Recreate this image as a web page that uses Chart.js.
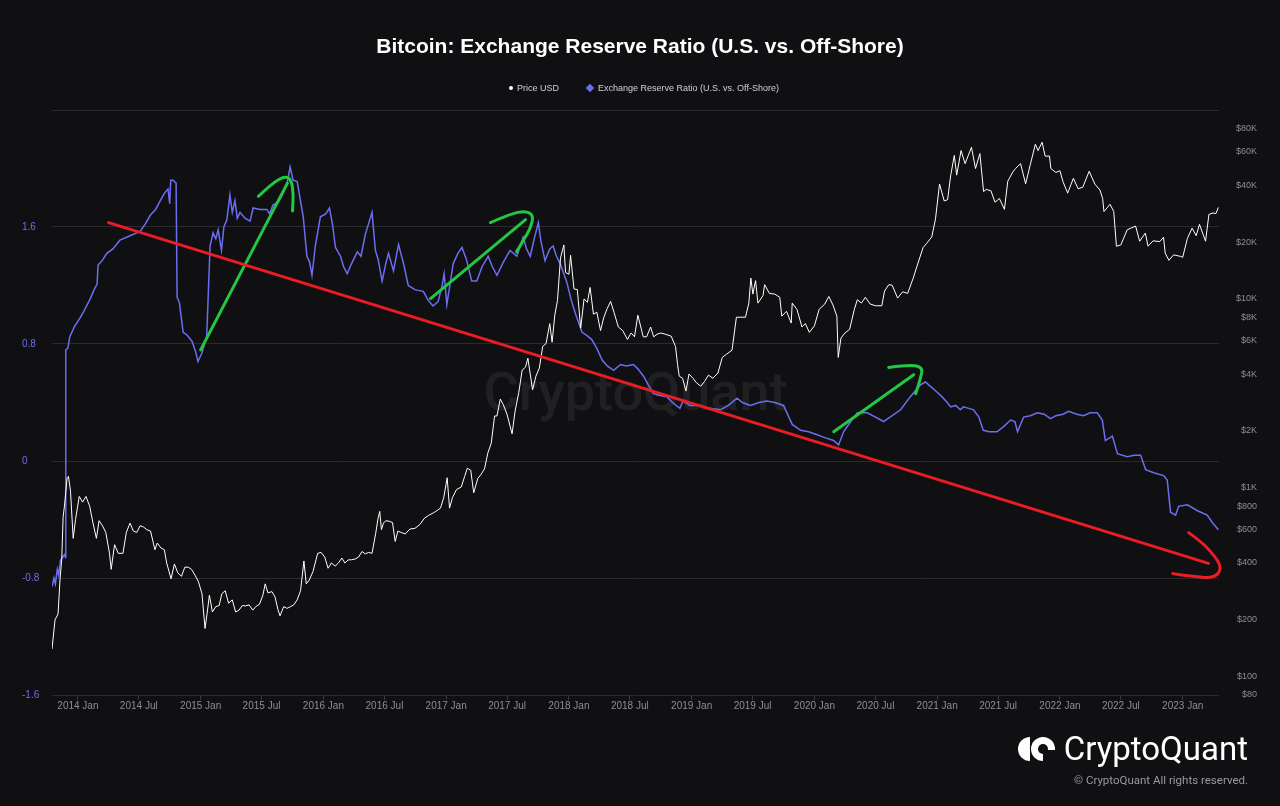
<!DOCTYPE html>
<html>
<head>
<meta charset="utf-8">
<script src="https://cdn.jsdelivr.net/npm/chart.js@4.4.1/dist/chart.umd.min.js"></script>
<style>
html,body{margin:0;padding:0;background:#101013;}
#wrap{position:relative;width:1280px;height:806px;overflow:hidden;font-family:Arial,"Liberation Sans",sans-serif;}
#chart{position:absolute;left:0;top:0;}
#title{position:absolute;top:34px;left:0;width:1280px;text-align:center;color:#fff;font-weight:bold;font-size:21px;}
#legend{position:absolute;top:82px;left:4px;width:1280px;text-align:center;color:#d0d0d4;font-size:9px;}
#legend span{display:inline-block;vertical-align:middle;}
.dot{width:4px;height:4px;border-radius:50%;background:#fff;margin-right:4px;}
.dia{width:6px;height:6px;background:#6b6ef0;transform:rotate(45deg);margin:0 5px 0 28px;}
#brand{position:absolute;right:32px;top:729px;color:#fff;font-family:Roboto,sans-serif;font-size:33px;display:flex;align-items:center;}
#brand svg{margin-right:9px;}
#copy{position:absolute;right:32px;top:773px;color:#9a9a9e;font-family:Roboto,sans-serif;font-size:11.5px;}
</style>
</head>
<body>
<div id="wrap">
<canvas id="chart" width="1280" height="806"></canvas>
<div id="title">Bitcoin: Exchange Reserve Ratio (U.S. vs. Off-Shore)</div>
<div id="legend"><span class="dot"></span><span>Price USD</span><span class="dia"></span><span>Exchange Reserve Ratio (U.S. vs. Off-Shore)</span></div>
<div id="brand"><svg width="38" height="26" viewBox="0 0 38 26"><path d="M13 1 A12 12 0 0 0 13 25 Z" fill="#fff"/><circle cx="26" cy="13" r="12" fill="#fff"/><path d="M26 14 L38 14 L38 26 L26 26 Z" fill="#101013"/><circle cx="26" cy="13" r="5" fill="#101013"/></svg>CryptoQuant</div>
<div id="copy">© CryptoQuant All rights reserved.</div>
</div>
<script>
// tick labels
const xTickDates = ['2014-01-01','2014-07-01','2015-01-01','2015-07-01','2016-01-01','2016-07-01','2017-01-01','2017-07-01','2018-01-01','2018-07-01','2019-01-01','2019-07-01','2020-01-01','2020-07-01','2021-01-01','2021-07-01','2022-01-01','2022-07-01','2023-01-01']
const xTickLabels = ['2014 Jan','2014 Jul','2015 Jan','2015 Jul','2016 Jan','2016 Jul','2017 Jan','2017 Jul','2018 Jan','2018 Jul','2019 Jan','2019 Jul','2020 Jan','2020 Jul','2021 Jan','2021 Jul','2022 Jan','2022 Jul','2023 Jan']
const priceTicks = [80,100,200,400,600,800,1000,2000,4000,6000,8000,10000,20000,40000,60000,80000]
const priceTickLabels = ['$80','$100','$200','$400','$600','$800','$1K','$2K','$4K','$6K','$8K','$10K','$20K','$40K','$60K','$80K']

// Price USD
const priceDates = [
'2013-10-16','2013-10-25','2013-11-03','2013-11-09','2013-11-14','2013-11-18','2013-11-22','2013-11-30','2013-12-04','2013-12-10','2013-12-18','2013-12-25',
'2014-01-05','2014-01-15','2014-01-25','2014-02-05','2014-02-15','2014-02-25','2014-03-05','2014-03-15','2014-03-25','2014-04-05','2014-04-10','2014-04-20','2014-05-01','2014-05-15','2014-05-25','2014-06-05','2014-06-15','2014-06-25','2014-07-05','2014-07-15','2014-07-25','2014-08-05','2014-08-18','2014-08-25','2014-09-05','2014-09-15','2014-09-22','2014-10-05','2014-10-15','2014-10-25','2014-11-05','2014-11-15','2014-11-25','2014-12-05','2014-12-15','2014-12-25',
'2015-01-05','2015-01-14','2015-01-20','2015-01-27','2015-02-05','2015-02-15','2015-02-25','2015-03-05','2015-03-15','2015-03-25','2015-04-05','2015-04-15','2015-04-25','2015-05-05','2015-05-15','2015-05-25','2015-06-05','2015-06-15','2015-06-25','2015-07-05','2015-07-12','2015-07-20','2015-08-01','2015-08-10','2015-08-19','2015-08-25','2015-09-05','2015-09-15','2015-09-25','2015-10-05','2015-10-15','2015-10-25','2015-11-04','2015-11-11','2015-11-20','2015-12-01','2015-12-15','2015-12-25',
'2016-01-05','2016-01-15','2016-01-25','2016-02-05','2016-02-15','2016-02-25','2016-03-05','2016-03-15','2016-03-25','2016-04-05','2016-04-15','2016-04-25','2016-05-05','2016-05-15','2016-05-25','2016-06-05','2016-06-12','2016-06-17','2016-06-22','2016-06-28','2016-07-05','2016-07-15','2016-07-25','2016-08-02','2016-08-10','2016-08-20','2016-09-01','2016-09-15','2016-09-30','2016-10-15','2016-10-28','2016-11-10','2016-11-20','2016-12-01','2016-12-15','2016-12-25',
'2017-01-04','2017-01-11','2017-01-20','2017-02-01','2017-02-15','2017-02-25','2017-03-05','2017-03-15','2017-03-24','2017-04-05','2017-04-15','2017-04-25','2017-05-05','2017-05-15','2017-05-25','2017-06-01','2017-06-11','2017-06-20','2017-07-01','2017-07-16','2017-07-25','2017-08-05','2017-08-15','2017-08-25','2017-09-01','2017-09-15','2017-09-25','2017-10-05','2017-10-15','2017-10-25','2017-11-05','2017-11-12','2017-11-20','2017-11-28','2017-12-07','2017-12-17','2017-12-22',
'2018-01-01','2018-01-06','2018-01-16','2018-01-26','2018-02-05','2018-02-15','2018-02-25','2018-03-05','2018-03-15','2018-03-25','2018-04-05','2018-04-15','2018-04-25','2018-05-05','2018-05-15','2018-05-28','2018-06-10','2018-06-24','2018-07-05','2018-07-15','2018-07-25','2018-08-10','2018-08-20','2018-09-01','2018-09-10','2018-09-20','2018-10-01','2018-10-15','2018-11-01','2018-11-14','2018-11-20','2018-11-25','2018-12-05','2018-12-15','2018-12-24',
'2019-01-05','2019-01-15','2019-01-28','2019-02-08','2019-02-20','2019-03-05','2019-03-20','2019-04-02','2019-04-15','2019-05-01','2019-05-14','2019-05-25','2019-06-10','2019-06-20','2019-06-26','2019-07-02','2019-07-10','2019-07-17','2019-08-01','2019-08-06','2019-08-20','2019-09-05','2019-09-20','2019-09-26','2019-10-10','2019-10-24','2019-10-27','2019-11-10','2019-11-25','2019-12-05','2019-12-17',
'2020-01-01','2020-01-15','2020-02-01','2020-02-13','2020-02-25','2020-03-08','2020-03-12','2020-03-20','2020-04-01','2020-04-15','2020-04-29','2020-05-08','2020-05-20','2020-06-01','2020-06-15','2020-07-01','2020-07-20','2020-07-28','2020-08-10','2020-08-20','2020-09-05','2020-09-20','2020-10-05','2020-10-21','2020-11-05','2020-11-20','2020-12-01','2020-12-16','2020-12-27',
'2021-01-08','2021-01-22','2021-02-01','2021-02-10','2021-02-21','2021-02-28','2021-03-13','2021-03-25','2021-04-13','2021-04-25','2021-05-08','2021-05-19','2021-05-27','2021-06-10','2021-06-22','2021-07-05','2021-07-20','2021-07-30','2021-08-14','2021-08-22','2021-09-06','2021-09-21','2021-10-05','2021-10-20','2021-10-28','2021-11-09','2021-11-18','2021-12-01','2021-12-05','2021-12-20',
'2022-01-01','2022-01-10','2022-01-24','2022-02-10','2022-02-24','2022-03-10','2022-03-29','2022-04-15','2022-04-30','2022-05-08','2022-05-12','2022-05-30','2022-06-10','2022-06-18','2022-07-01','2022-07-20','2022-08-14','2022-08-26','2022-09-12','2022-09-20','2022-10-05','2022-10-25','2022-11-05','2022-11-10','2022-11-21','2022-12-05','2022-12-25',
'2023-01-01','2023-01-15','2023-01-29','2023-02-10','2023-02-20','2023-03-10','2023-03-20','2023-04-01','2023-04-10','2023-04-17']
const priceValues = [
140,200,215,330,420,700,800,1130,1150,960,540,680,
900,840,900,800,650,540,670,630,580,450,370,500,450,450,580,650,590,580,630,620,600,590,470,510,480,470,400,330,395,355,340,380,380,370,345,320,
275,180,215,270,220,235,238,275,285,245,255,220,225,238,237,240,225,236,242,270,310,278,282,265,226,210,235,230,235,240,255,285,410,310,325,360,450,455,
430,375,400,385,400,425,400,415,416,420,430,460,447,455,450,575,690,750,600,650,670,665,655,520,590,580,570,605,610,640,690,715,730,750,780,890,
1130,780,890,980,1010,1150,1270,1240,940,1120,1180,1260,1530,1720,2400,2400,2950,2750,2450,1930,2550,3200,4200,4350,4850,3300,3900,4300,5600,5800,7400,5900,8200,9800,16500,19300,13800,
13500,17000,11300,11200,7000,10000,9600,11500,8300,8500,6800,8000,8900,9700,8500,7100,6800,6100,6600,6300,8200,6300,6300,7100,6300,6500,6600,6500,6350,5600,4500,3900,3800,3250,4000,
3800,3600,3450,3650,3950,3800,4050,4900,5100,5350,8000,8000,8000,9500,12900,10600,12500,9500,10400,11900,10700,10600,10200,8100,8600,7450,9500,8800,7100,7400,6650,
7200,8800,9400,10300,9300,8100,4900,6200,6600,6900,8800,9900,9500,10200,9400,9200,9200,11000,11900,11800,10100,10900,10700,12800,15500,18700,19700,21300,26500,
40600,33000,33500,44800,57500,45200,61000,52000,63500,49000,58800,37000,38000,37300,32500,34000,29800,42000,47000,49000,52000,40700,51500,65900,61000,67500,57000,57000,49000,46700,
47700,41800,36300,43500,38300,39000,47400,40500,37700,34000,29000,31700,29000,19000,19300,23200,24300,20200,22300,19000,20300,20100,21200,17500,16000,17100,16800,
16600,20900,23700,21600,24800,20200,28000,28500,28300,30500]

// Exchange Reserve Ratio (U.S. vs. Off-Shore)
const ratioDates = [
'2013-10-16','2013-10-22','2013-10-26','2013-11-01','2013-11-05','2013-11-10','2013-11-16','2013-11-22','2013-11-25','2013-11-26','2013-12-02','2013-12-08','2013-12-22',
'2014-01-08','2014-01-20','2014-02-07','2014-02-18','2014-02-27','2014-03-02','2014-03-14','2014-03-28','2014-04-15','2014-05-06','2014-06-05','2014-07-05','2014-07-20','2014-08-04','2014-08-20','2014-09-03','2014-09-15','2014-09-26','2014-10-01','2014-10-04','2014-10-11','2014-10-20','2014-10-23','2014-10-30','2014-11-10','2014-11-22','2014-12-06','2014-12-18','2014-12-24',
'2015-01-05','2015-01-19','2015-01-29','2015-02-07','2015-02-15','2015-02-22','2015-03-04','2015-03-11','2015-03-20','2015-03-29','2015-04-05','2015-04-13','2015-04-20','2015-04-28','2015-05-13','2015-05-28','2015-06-06','2015-06-27','2015-07-17','2015-07-25','2015-08-04','2015-08-20','2015-09-03','2015-09-15','2015-09-24','2015-10-03','2015-10-15','2015-11-02','2015-11-13','2015-11-21','2015-11-28','2015-12-08','2015-12-23',
'2016-01-08','2016-01-19','2016-01-28','2016-02-06','2016-02-21','2016-03-01','2016-03-12','2016-03-25','2016-04-11','2016-04-22','2016-05-05','2016-05-25','2016-06-04','2016-06-12','2016-06-24','2016-07-05','2016-07-13','2016-07-28','2016-08-12','2016-08-27','2016-09-10','2016-10-01','2016-10-25','2016-11-08','2016-11-23','2016-12-08','2016-12-20','2016-12-26',
'2017-01-03','2017-01-12','2017-01-22','2017-02-05','2017-02-17','2017-03-02','2017-03-18','2017-04-02','2017-04-18','2017-05-06','2017-05-18','2017-06-01','2017-06-20','2017-07-10','2017-07-30','2017-08-18','2017-08-28','2017-09-08','2017-09-20','2017-10-02','2017-10-10','2017-10-22','2017-11-05','2017-11-15','2017-11-25','2017-12-06','2017-12-26',
'2018-01-08','2018-01-20','2018-02-09','2018-02-22','2018-03-10','2018-03-25','2018-04-10','2018-04-25','2018-05-14','2018-06-04','2018-06-20','2018-07-12','2018-07-25','2018-08-11','2018-08-25','2018-09-09','2018-09-25','2018-10-19','2018-11-05','2018-11-27','2018-12-06','2018-12-27',
'2019-01-26','2019-02-25','2019-03-27','2019-04-20','2019-05-16','2019-06-01','2019-06-25','2019-07-20','2019-08-13','2019-09-05','2019-10-01','2019-10-27','2019-11-21','2019-12-15',
'2020-01-09','2020-02-01','2020-02-27','2020-03-13','2020-03-28','2020-04-15','2020-05-08','2020-06-07','2020-07-01','2020-07-25','2020-08-20','2020-09-14','2020-10-13','2020-11-12','2020-11-27','2020-12-12',
'2021-01-01','2021-01-15','2021-01-31','2021-02-10','2021-02-25','2021-03-11','2021-03-20','2021-04-05','2021-04-19','2021-05-05','2021-05-18','2021-06-05','2021-06-28','2021-07-20','2021-08-07','2021-08-20','2021-08-28','2021-09-15','2021-10-05','2021-10-26','2021-11-15','2021-12-04','2021-12-20',
'2022-01-10','2022-01-27','2022-02-20','2022-03-12','2022-04-01','2022-04-22','2022-05-07','2022-05-16','2022-06-06','2022-06-21','2022-07-20','2022-08-10','2022-08-29','2022-09-13','2022-10-07','2022-11-05','2022-11-16','2022-11-26','2022-12-11','2022-12-20',
'2023-01-15','2023-02-14','2023-03-15','2023-03-30','2023-04-17']
const ratioValues = [
-0.86,-0.80,-0.84,-0.74,-0.78,-0.68,-0.66,-0.64,-0.66,0.76,0.77,0.85,0.92,
0.98,1.03,1.11,1.17,1.21,1.34,1.37,1.42,1.45,1.51,1.54,1.57,1.62,1.68,1.72,1.78,1.83,1.86,1.76,1.92,1.92,1.90,1.12,1.08,0.88,0.86,0.82,0.74,0.68,
0.74,0.85,1.47,1.56,1.52,1.58,1.44,1.60,1.65,1.82,1.70,1.78,1.66,1.70,1.66,1.64,1.73,1.72,1.72,1.69,1.75,1.77,1.83,1.90,2.01,1.92,1.91,1.67,1.40,1.36,1.27,1.47,1.67,
1.69,1.73,1.62,1.46,1.40,1.33,1.28,1.35,1.43,1.40,1.55,1.70,1.44,1.38,1.23,1.35,1.42,1.30,1.48,1.35,1.20,1.17,1.16,1.10,1.06,1.09,1.20,1.28,
1.07,1.20,1.35,1.42,1.46,1.38,1.23,1.23,1.33,1.40,1.33,1.27,1.36,1.44,1.40,1.53,1.45,1.40,1.52,1.63,1.50,1.37,1.45,1.47,1.40,1.35,1.22,
1.10,1.01,0.88,0.86,0.83,0.77,0.69,0.65,0.62,0.66,0.65,0.66,0.63,0.58,0.52,0.46,0.45,0.44,0.40,0.36,0.41,0.38,
0.38,0.36,0.35,0.38,0.43,0.40,0.38,0.40,0.41,0.40,0.38,0.25,0.21,0.20,
0.18,0.16,0.14,0.11,0.20,0.26,0.33,0.33,0.30,0.27,0.31,0.35,0.44,0.52,0.54,0.51,
0.47,0.44,0.40,0.37,0.38,0.35,0.37,0.36,0.35,0.30,0.21,0.20,0.20,0.24,0.28,0.27,0.20,0.30,0.31,0.33,0.32,0.29,0.31,
0.32,0.34,0.32,0.31,0.33,0.33,0.28,0.14,0.17,0.05,0.03,0.04,0.04,-0.06,-0.08,-0.10,-0.13,-0.35,-0.37,-0.31,
-0.30,-0.34,-0.37,-0.42,-0.47]

// hand-drawn marks, [year, ratio]
const redTrend = [[2014.25, 1.63], [2023.21, -0.70]]
const redHook = [[2023.049,-0.49],[2023.147,-0.55],[2023.229,-0.62],[2023.286,-0.68],[2023.31,-0.73],[2023.286,-0.78],[2023.213,-0.80],[2023.107,-0.79],[2022.985,-0.78],[2022.919,-0.77]]
const greenLines = [
  [[2015.0, 0.76], [2015.707, 1.90]],
  [[2016.873, 1.11], [2017.647, 1.65]],
  [[2020.157, 0.20], [2020.809, 0.59]]
]
const greenHeads = [
  [[2015.47,1.81],[2015.584,1.90],[2015.69,1.95],[2015.74,1.92],[2015.756,1.82],[2015.748,1.71]],
  [[2017.361,1.63],[2017.524,1.69],[2017.647,1.71],[2017.712,1.68],[2017.687,1.59],[2017.63,1.51],[2017.573,1.43]],
  [[2020.605,0.64],[2020.784,0.66],[2020.882,0.64],[2020.866,0.57],[2020.825,0.46]]
]

function toYear(s){
    const [y,m,d] = s.split('-').map(Number)
    const start = Date.UTC(y,0,1), end = Date.UTC(y+1,0,1)
    return y + (Date.UTC(y,m-1,d) - start) / (end - start)
}

const priceData = priceDates.map((d,i) => ({x: toYear(d), y: priceValues[i]}))
const ratioData = ratioDates.map((d,i) => ({x: toYear(d), y: ratioValues[i]}))

function strokePath(ctx, chart, pts, color, width){
    const xs = chart.scales.x, ys = chart.scales.y
    const p = pts.map(a => [xs.getPixelForValue(a[0]), ys.getPixelForValue(a[1])])
    ctx.beginPath()
    ctx.moveTo(p[0][0], p[0][1])
    if (p.length === 2) {
        ctx.lineTo(p[1][0], p[1][1])
    } else {
        for (let i = 1; i < p.length - 1; i++) {
            const mx = (p[i][0] + p[i+1][0]) / 2, my = (p[i][1] + p[i+1][1]) / 2
            ctx.quadraticCurveTo(p[i][0], p[i][1], mx, my)
        }
        ctx.lineTo(p[p.length-1][0], p[p.length-1][1])
    }
    ctx.strokeStyle = color
    ctx.lineWidth = width
    ctx.lineCap = 'round'
    ctx.lineJoin = 'round'
    ctx.stroke()
}

const watermark = {
    id: 'watermark',
    beforeDatasetsDraw(chart){
        const {ctx, chartArea} = chart
        ctx.save()
        ctx.font = '500 54px Roboto'
        ctx.fillStyle = 'rgba(255,255,255,0.07)'
        ctx.textAlign = 'center'
        ctx.textBaseline = 'middle'
        ctx.fillText('CryptoQuant', (chartArea.left + chartArea.right) / 2, (chartArea.top + chartArea.bottom) / 2 - 6)
        ctx.restore()
    }
}

const drawings = {
    id: 'drawings',
    afterDatasetsDraw(chart){
        const ctx = chart.ctx
        ctx.save()
        greenLines.forEach(l => strokePath(ctx, chart, l, '#22c743', 3))
        greenHeads.forEach(l => strokePath(ctx, chart, l, '#22c743', 3))
        strokePath(ctx, chart, redTrend, '#ea1c24', 3)
        strokePath(ctx, chart, redHook, '#ea1c24', 3)
        ctx.restore()
    }
}

new Chart(document.getElementById('chart'), {
    type: 'line',
    data: {
        datasets: [{
            label: 'Price USD',
            data: priceData,
            yAxisID: 'y1',
            borderColor: '#ffffff',
            borderWidth: 1,
            pointRadius: 0
        }, {
            label: 'Exchange Reserve Ratio (U.S. vs. Off-Shore)',
            data: ratioData,
            yAxisID: 'y',
            borderColor: '#6b6ef0',
            borderWidth: 1.5,
            pointRadius: 0
        }]
    },
    options: {
        responsive: false,
        animation: false,
        devicePixelRatio: 1,
        layout: {padding: {top: 110, left: 22, right: 23, bottom: 94}},
        plugins: {legend: {display: false}, tooltip: {enabled: false}},
        scales: {
            x: {
                type: 'linear',
                min: toYear('2013-10-16'),
                max: toYear('2023-04-19'),
                afterBuildTicks: s => { s.ticks = xTickDates.map(d => ({value: toYear(d)})) },
                ticks: {
                    autoSkip: false, maxRotation: 0, padding: 0,
                    color: '#8e8e93', font: {size: 10, family: 'Arial'},
                    callback: (v, i) => xTickLabels[i]
                },
                grid: {drawOnChartArea: false, color: '#3a3a3e', tickLength: 5},
                border: {display: false}
            },
            y: {
                position: 'left',
                min: -1.6, max: 2.4,
                afterFit: s => { s.width = 30 },
                ticks: {
                    stepSize: 0.8, crossAlign: 'far',
                    color: '#6b6ee6', font: {size: 10, family: 'Arial'},
                    callback: v => Math.abs(v - 2.4) < 0.01 ? '' : String(Math.round(v * 10) / 10)
                },
                grid: {color: '#2a2a2e', drawTicks: false},
                border: {display: false}
            },
            y1: {
                type: 'logarithmic',
                position: 'right',
                min: 80, max: 100000,
                afterFit: s => { s.width = 38 },
                afterBuildTicks: s => { s.ticks = priceTicks.map(v => ({value: v})) },
                ticks: {
                    crossAlign: 'far',
                    color: '#8e8e93', font: {size: 9, family: 'Arial'},
                    callback: (v, i) => priceTickLabels[i]
                },
                grid: {display: false},
                border: {display: false}
            }
        }
    },
    plugins: [watermark, drawings]
})
</script>
</body>
</html>
